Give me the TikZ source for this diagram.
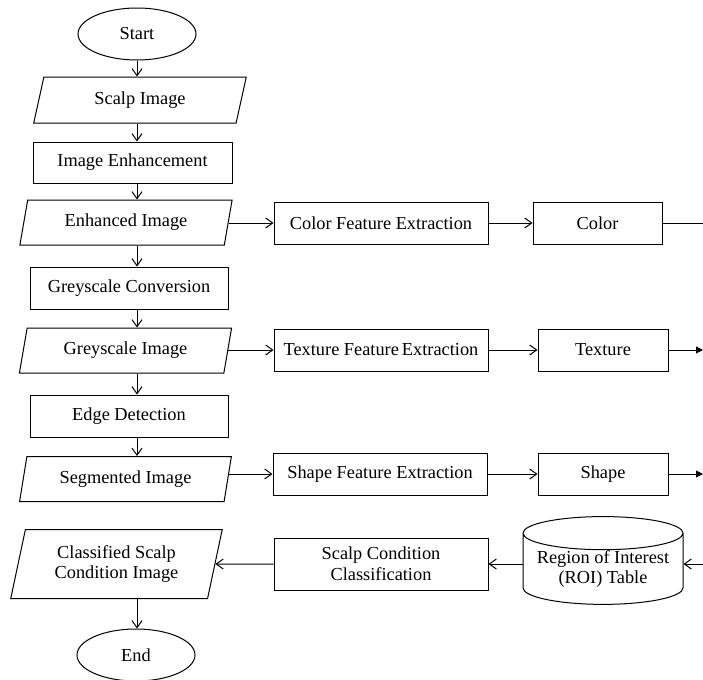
\documentclass[tikz,border=0pt]{standalone}
\usepackage{fontspec}
\setmainfont{Liberation Serif}
\usetikzlibrary{arrows.meta, shapes.geometric}
\tikzset{
  term/.style={draw, ellipse, minimum width=70.8pt, minimum height=31.2pt,
               inner sep=0pt},
  io/.style={draw, trapezium, trapezium left angle=76, trapezium right angle=104,
             trapezium stretches=true, minimum width=128pt, minimum height=#1,
             align=center, inner sep=1pt},
  proc/.style={draw, rectangle, minimum width=#1, minimum height=25.2pt,
               align=center, inner sep=1pt},
  db/.style={draw, cylinder, shape border rotate=90, aspect=0.25,
             minimum width=96pt, minimum height=44pt, align=center, inner sep=0pt},
  arr/.style={-{Straight Barb[length=4.2pt, width=6pt]}},
  outarr/.style={-{Triangle[length=4.2pt, width=4.2pt]}},
}

\begin{document}
\begin{tikzpicture}[x=0.6pt, y=-0.6pt, line width=0.6pt,
    every node/.style={font=\fontsize{11}{12.5}\selectfont}]
  \useasboundingbox (0,0) rectangle (703,680);

  % main column
  \node[term]            (start)    at (137, 34)  {Start};
  \node[io=27.6pt]       (scalp)    at (140,100)  {Scalp Image};
  \node[proc=119.4pt, minimum height=24.6pt] (enh) at (132.5,162.5) {Image Enhancement};
  \node[io=27pt]         (enhimg)   at (126,222.5) {Enhanced Image};
  \node[proc=118.8pt]    (gconv)    at (129,288)  {Greyscale Conversion};
  \node[io=27pt]         (gimg)     at (125.5,350.5) {Greyscale Image};
  \node[proc=118.8pt]    (edge)     at (129,416)  {Edge Detection};
  \node[io=27pt]         (segimg)   at (125.5,479) {Segmented Image};
  \node[io=41.4pt]       (classimg) at (116.5,564) {Classified Scalp\\Condition Image};
  \node[term]            (stop)     at (136,655)  {End};

  % feature extraction
  \node[proc=128.4pt]    (cfe)      at (381,223)  {Color Feature Extraction};
  \node[proc=128.4pt]    (tfe)      at (381,350)  {Texture Feature\,Extraction};
  \node[proc=128.4pt]    (sfe)      at (380,474)  {Shape Feature Extraction};
  \node[proc=77.4pt]     (color)    at (597.5,223) {Color};
  \node[proc=78pt]       (texture)  at (603,350)  {Texture};
  \node[proc=78pt]       (shape)    at (603,474)  {Shape};

  % classification
  \node[db]              (roi)      at (603,569)  {Region of Interest\\(ROI) Table};
  \node[proc=128.4pt, minimum height=31.2pt] (scc) at (381,564) {Scalp Condition\\Classification};

  \coordinate (colorout) at (703,223);
  \coordinate (texout)   at (703,350);
  \coordinate (shapeout) at (703,474);
  \coordinate (roiin)    at (703,564);

  \draw[arr] (start.south) -- (scalp.north -| start);
  \draw[arr] (scalp.south -| start) -- (enh.north -| start);
  \draw[arr] (enh.south -| start) -- (enhimg.north -| start);
  \draw[arr] (enhimg.south -| start) -- (gconv.north -| start);
  \draw[arr] (gconv.south -| start) -- (gimg.north -| start);
  \draw[arr] (gimg.south -| start) -- (edge.north -| start);
  \draw[arr] (edge.south -| start) -- (segimg.north -| start);
  \draw[arr] (classimg.south -| start) -- (stop.north -| start);

  \draw[arr] (enhimg.east |- cfe) -- (cfe.west);
  \draw[arr] (cfe.east) -- (color.west);
  \draw (color.east) -- (colorout);

  \draw[arr] (gimg.east |- tfe) -- (tfe.west);
  \draw[arr] (tfe.east) -- (texture.west);
  \draw[outarr] (texture.east) -- (texout);

  \draw[arr] (segimg.east |- sfe) -- (sfe.west);
  \draw[arr] (sfe.east) -- (shape.west);
  \draw[outarr] (shape.east) -- (shapeout);

  \draw[arr] (roiin) -- (roi.east |- roiin);
  \draw[arr] (roi.west |- scc) -- (scc.east);
  \draw[arr] (scc.west) -- (classimg.east);
\end{tikzpicture}
\end{document}
